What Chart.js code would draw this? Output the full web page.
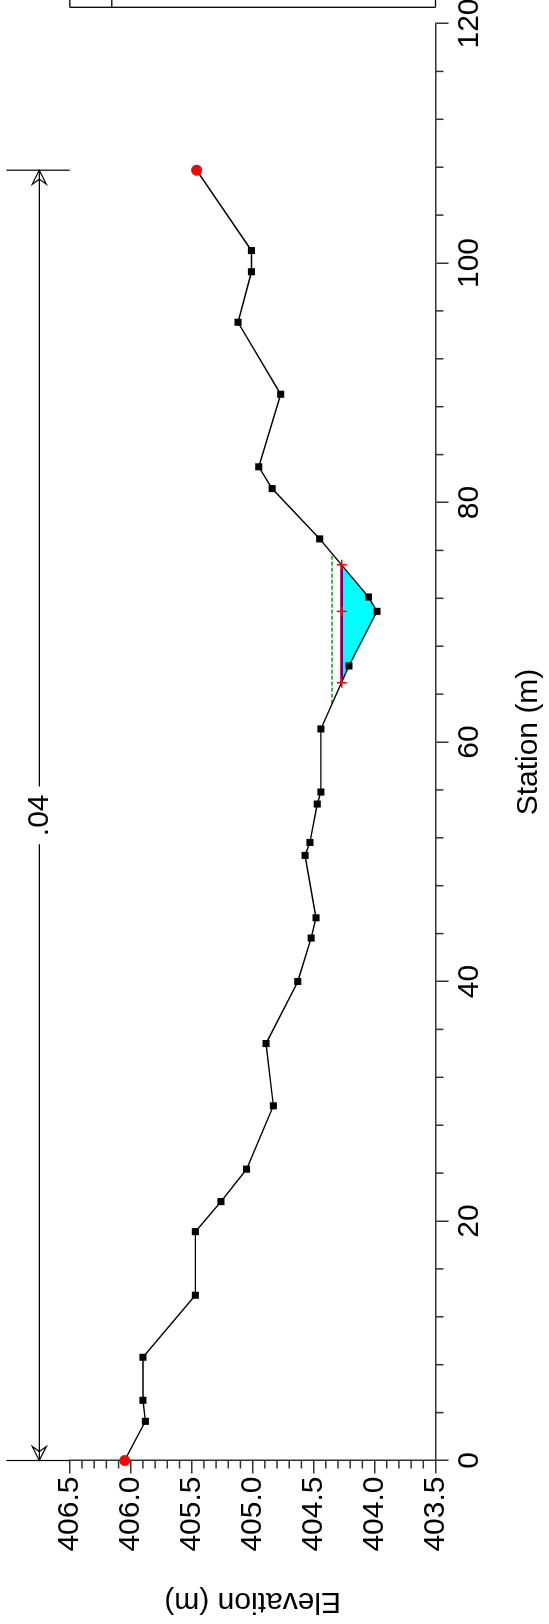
<!DOCTYPE html>
<html><head><meta charset="utf-8">
<script src="https://cdn.jsdelivr.net/npm/chart.js@4.4.1/dist/chart.umd.min.js"></script>
<style>
html,body{margin:0;padding:0;background:#fff;overflow:hidden;width:549px;height:1624px;}
#wrap{position:absolute;left:0;top:0;width:1624px;height:549px;transform-origin:0 0;transform:translate(0px,1624px) rotate(-90deg);background:#fff;}
canvas{display:block;}
</style></head><body>
<div id="wrap"><canvas id="c" width="1624" height="549"></canvas></div>
<script>
// ---- data ----
const stations   = [0, 3.27, 5.03, 8.62, 13.80, 19.11, 21.62, 24.33, 29.62, 34.82, 40.00, 43.63, 45.32, 50.53, 51.61, 54.82, 55.82, 61.09, 66.35, 70.91, 72.11, 76.96, 81.16, 82.98, 89.04, 95.05, 99.27, 101.04, 107.75];
const elevations = [406.05, 405.88, 405.90, 405.90, 405.47, 405.47, 405.26, 405.05, 404.83, 404.89, 404.63, 404.52, 404.48, 404.57, 404.53, 404.47, 404.44, 404.44, 404.21, 403.98, 404.05, 404.45, 404.84, 404.95, 404.77, 405.12, 405.01, 405.01, 405.46];
const bankStations   = [0, 107.75];
const bankElevations = [406.05, 405.46];
const wsElevation = 404.27;
const wsStations  = [64.95, 70.91, 74.80];
const critElevation = 404.35;
const critStations  = [63.2, 75.7];
const nValueStations = [0, 107.75];
const nValueLabels   = ['.04'];
const nLineElevation = 406.75;
const nMarkTopElevation = 407.02;
const stationTicks   = [0, 20, 40, 60, 80, 100, 120];
const elevationTicks = [403.5, 404.0, 404.5, 405.0, 405.5, 406.0, 406.5];
const stationMinorStep = 4;
const elevationMinorStep = 0.1;

const FONT = "'Liberation Sans', Arial, sans-serif";
Chart.defaults.font.family = FONT;
Chart.defaults.color = '#000';

const groundPts = stations.map((s, i) => ({x: s, y: elevations[i]}));
const waterPts = [{x: wsStations[0], y: wsElevation}]
  .concat(groundPts.filter(p => p.x > wsStations[0] && p.x < wsStations[2]))
  .concat([{x: wsStations[2], y: wsElevation}]);
const wsLinePts = [{x: wsStations[0], y: wsElevation}, {x: wsStations[2], y: wsElevation}];
const wsMarkPts = wsStations.map(s => ({x: s, y: wsElevation}));
const critPts = critStations.map(s => ({x: s, y: critElevation}));
const bankPts = bankStations.map((s, i) => ({x: s, y: bankElevations[i]}));

const decor = {
  id: 'decor',
  afterDraw(chart) {
    const {ctx, chartArea: a, scales: {x, y}} = chart;
    const line = (x0, y0, x1, y1) => { ctx.beginPath(); ctx.moveTo(x0, y0); ctx.lineTo(x1, y1); ctx.stroke(); };
    ctx.save();
    // minor ticks
    ctx.strokeStyle = '#333'; ctx.lineWidth = 1.5;
    const sMin = stationTicks[0], sMax = stationTicks[stationTicks.length - 1];
    for (let k = 0; sMin + k * stationMinorStep <= sMax + 1e-9; k++) {
      const v = sMin + k * stationMinorStep;
      if (stationTicks.some(t => Math.abs(t - v) < 1e-6)) continue;
      const px = x.getPixelForValue(v);
      line(px, a.bottom, px, a.bottom + 8);
    }
    const eMin = elevationTicks[0], eMax = elevationTicks[elevationTicks.length - 1];
    for (let k = 0; eMin + k * elevationMinorStep <= eMax + 1e-9; k++) {
      const v = eMin + k * elevationMinorStep;
      if (elevationTicks.some(t => Math.abs(t - v) < 1e-6)) continue;
      const py = y.getPixelForValue(v);
      line(a.left - 8, py, a.left, py);
    }
    // Manning's n annotation
    ctx.strokeStyle = '#000'; ctx.lineWidth = 1.2;
    const yL = y.getPixelForValue(nLineElevation);
    const yT = y.getPixelForValue(nMarkTopElevation);
    const yB = y.getPixelForValue(eMax);
    const xs = nValueStations.map(s => x.getPixelForValue(s));
    xs.forEach(px => line(px, yT, px, yB));
    ctx.font = '30px ' + FONT;
    for (let i = 0; i < nValueLabels.length; i++) {
      const x0 = xs[i], x1 = xs[i + 1], xm = (x0 + x1) / 2;
      const gap = ctx.measureText(nValueLabels[i]).width / 2 + 8;
      line(x0, yL, xm - gap, yL);
      line(xm + gap, yL, x1, yL);
      const arrow = (tip, dir) => {
        ctx.beginPath();
        ctx.moveTo(tip - dir * 14, yL - 7);
        ctx.lineTo(tip, yL);
        ctx.lineTo(tip - dir * 14, yL + 7);
        ctx.lineTo(tip - dir * 9, yL);
        ctx.closePath();
        ctx.stroke();
      };
      arrow(x0, -1); arrow(x1, 1);
      ctx.fillStyle = '#000'; ctx.textAlign = 'center'; ctx.textBaseline = 'middle';
      ctx.fillText(nValueLabels[i], xm, yL);
    }
    // legend box (mostly outside the visible canvas)
    const lx = a.right + 16.2, lt = y.getPixelForValue(eMax), lb = y.getPixelForValue(eMin);
    ctx.lineWidth = 1.3;
    line(lx, lt, lx, lb);
    line(lx, lt, chart.width + 5, lt);
    line(lx, lb, chart.width + 5, lb);
    line(lx, lt + 42, chart.width + 5, lt + 42);
    ctx.restore();
  }
};

const axisCommon = {
  type: 'linear',
  grid: {display: true, drawOnChartArea: false, drawTicks: true, tickLength: 13, color: '#333', lineWidth: 1.5},
  border: {display: true, color: '#333', width: 1.5},
};

new Chart(document.getElementById('c'), {
  type: 'scatter',
  data: {
    datasets: [
      {label: 'Bank Sta', data: bankPts, showLine: false, pointStyle: 'circle', pointRadius: 5.5,
       pointBackgroundColor: '#ff0000', pointBorderColor: '#ff0000', pointBorderWidth: 0, order: 1, clip: false},
      {label: 'WS marks', data: wsMarkPts, showLine: false, pointStyle: 'cross', pointRadius: 5,
       pointBorderColor: '#ff0000', pointBorderWidth: 1.5, order: 4, clip: false},
      {label: 'Ground', data: groundPts, showLine: true, borderColor: '#000', borderWidth: 1.4,
       pointStyle: 'rect', pointRadius: 5, pointBackgroundColor: '#000', pointBorderColor: '#000', pointBorderWidth: 0,
       order: 5, clip: false, tension: 0},
      {label: 'WS blue', data: wsLinePts, showLine: true, borderColor: '#1010e0', borderWidth: 2,
       pointRadius: 0, order: 7, clip: false},
      {label: 'WS red', data: wsLinePts, showLine: true, borderColor: '#ff0000', borderWidth: 2.6,
       pointRadius: 0, order: 8, clip: false},
      {label: 'Crit', data: critPts, showLine: true, borderColor: '#129612', borderWidth: 1.5, borderDash: [4, 2],
       pointRadius: 0, order: 9, clip: false},
      {label: 'Water', data: waterPts, showLine: true, borderWidth: 0, borderColor: 'rgba(0,0,0,0)',
       backgroundColor: '#00ffff', fill: {value: wsElevation}, pointRadius: 0, order: 10}
    ]
  },
  options: {
    responsive: false, animation: false, devicePixelRatio: 1,
    layout: {padding: {left: 0, top: 69.8, right: 23.5, bottom: 0}},
    plugins: {legend: {display: false}, tooltip: {enabled: false}},
    scales: {
      x: Object.assign({}, axisCommon, {
        position: 'bottom', min: stationTicks[0], max: stationTicks[stationTicks.length - 1],
        afterBuildTicks: s => { s.ticks = stationTicks.map(v => ({value: v})); },
        ticks: {font: {size: 30}, color: '#000', padding: 3.5, maxRotation: 0, autoSkip: false,
                callback: v => String(v)},
        title: {display: true, text: 'Station (m)', font: {size: 30}, color: '#000', padding: {top: 0, bottom: 2}},
        afterFit: s => { s.height = 113.5; s.paddingLeft = 0; s.paddingRight = 0; }
      }),
      y: Object.assign({}, axisCommon, {
        position: 'left', min: elevationTicks[0], max: elevationTicks[elevationTicks.length - 1],
        afterBuildTicks: s => { s.ticks = elevationTicks.map(v => ({value: v})); },
        ticks: {font: {size: 30}, color: '#000', padding: 3, autoSkip: false,
                callback: v => Number(v).toFixed(1)},
        title: {display: true, text: 'Elevation (m)', font: {size: 30}, color: '#000', padding: {top: 5, bottom: 0}},
        afterFit: s => { s.width = 163.5; s.paddingTop = 0; s.paddingBottom = 0; }
      })
    }
  },
  plugins: [decor]
});
</script>
</body></html>
